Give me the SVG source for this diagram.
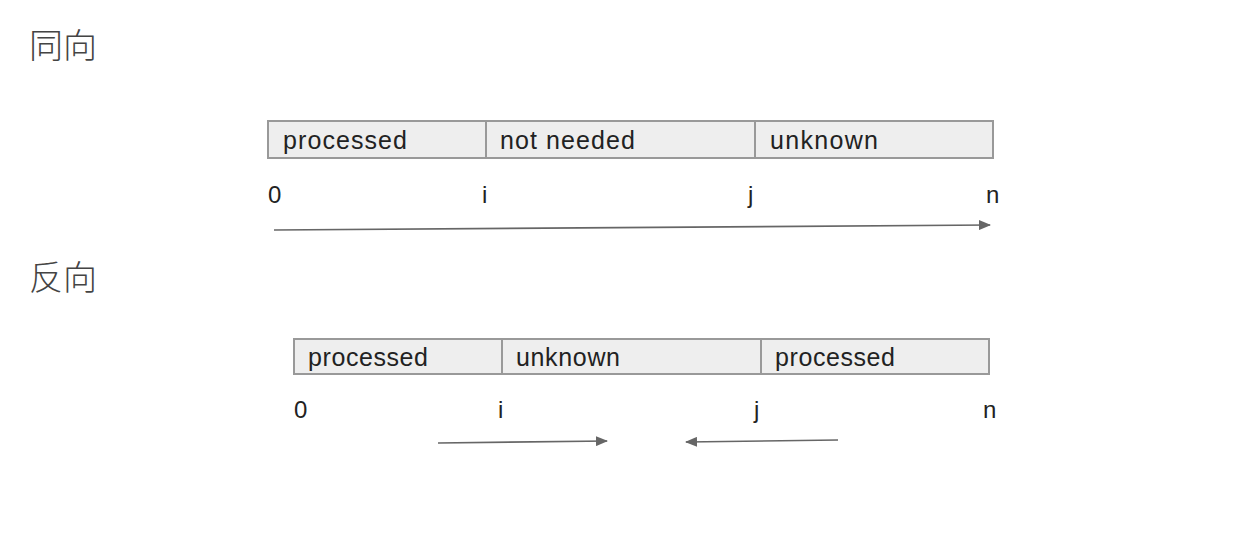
<svg xmlns="http://www.w3.org/2000/svg" width="1258" height="542" viewBox="0 0 1258 542">
<style>
.cell{fill:#eeeeee;stroke:#999999;stroke-width:2}
.lbl{font-family:"Liberation Sans",Arial,sans-serif;font-size:25px;fill:#222222}
.idx{font-family:"Liberation Sans",Arial,sans-serif;font-size:24px;fill:#222222}
.title{font-family:"Noto Sans CJK SC","Noto Sans",sans-serif;font-size:34px;font-weight:300;fill:#444444}
.arr{stroke:#666666;stroke-width:1.6;fill:none}
</style>
<defs>
<marker id="ah" markerWidth="12" markerHeight="10" refX="11" refY="5" orient="auto" markerUnits="userSpaceOnUse">
<path d="M0,0 L12,5 L0,10 Z" fill="#666666"/>
</marker>
</defs>
<rect width="1258" height="542" fill="#ffffff"/>
<text class="title" x="29" y="58">同向</text>
<text class="title" x="29" y="290">反向</text>
<g id="top-processed"><rect class="cell" x="268" y="121" width="218" height="37"/><text class="lbl" x="283" y="149" textLength="124">processed</text></g>
<g id="top-notneeded"><rect class="cell" x="486" y="121" width="269" height="37"/><text class="lbl" x="500" y="149" textLength="135">not needed</text></g>
<g id="top-unknown"><rect class="cell" x="755" y="121" width="238" height="37"/><text class="lbl" x="770" y="149" textLength="108">unknown</text></g>
<g id="top-indices">
<text class="idx" x="268" y="203">0</text>
<text class="idx" x="482" y="203">i</text>
<text class="idx" x="748" y="203">j</text>
<text class="idx" x="986" y="203">n</text>
</g>
<g id="bot-processed1"><rect class="cell" x="294" y="339" width="208" height="35"/><text class="lbl" x="308" y="366" textLength="120">processed</text></g>
<g id="bot-unknown"><rect class="cell" x="502" y="339" width="259" height="35"/><text class="lbl" x="516" y="366" textLength="104">unknown</text></g>
<g id="bot-processed2"><rect class="cell" x="761" y="339" width="228" height="35"/><text class="lbl" x="775" y="366" textLength="120">processed</text></g>
<g id="bot-indices">
<text class="idx" x="294" y="418">0</text>
<text class="idx" x="498" y="418">i</text>
<text class="idx" x="754" y="418">j</text>
<text class="idx" x="983" y="418">n</text>
</g>
<g id="connectors">
<line class="arr" x1="274" y1="230" x2="990" y2="225" marker-end="url(#ah)"/>
<line class="arr" x1="438" y1="443" x2="607" y2="441" marker-end="url(#ah)"/>
<line class="arr" x1="838" y1="440" x2="686" y2="442" marker-end="url(#ah)"/>
</g>
</svg>
